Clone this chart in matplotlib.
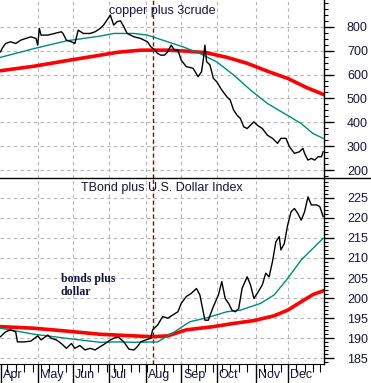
import numpy as np
import matplotlib
matplotlib.use('Agg')
import matplotlib.pyplot as plt
from matplotlib.lines import Line2D

# trading-day index counted from 2008-04-01
holidays = ['2008-05-26', '2008-07-04', '2008-09-01', '2008-11-27', '2008-12-25']
month_starts = ['2008-04-01', '2008-05-01', '2008-06-02', '2008-07-01', '2008-08-01',
                '2008-09-02', '2008-10-01', '2008-11-03', '2008-12-01']
month_labels = ['Apr', 'May', 'Jun', 'Jul', 'Aug', 'Sep', 'Oct', 'Nov', 'Dec']
marker_day = 90

# copper plus 3crude
cu_day = [0, 1, 3, 6, 9, 12, 15, 18, 21, 22, 23, 24, 28, 32, 36, 37, 39, 42, 44, 46,
          49, 53, 56, 59, 61, 63, 65, 67, 69, 71, 73, 75, 79, 83, 87, 89, 91, 93, 95, 97,
          99, 101, 103, 105, 107, 110, 112, 114, 117, 119, 120, 121, 122, 124, 126, 128,
          131, 134, 136, 138, 140, 142, 144, 146, 148, 150, 152, 155, 158, 161, 164, 166,
          169, 171, 174, 177, 179, 180, 182, 184, 186, 188, 190, 191]
cu_val = [695, 710, 730, 737, 730, 744, 751, 758, 751, 723, 793, 765, 765, 772, 779, 772,
          744, 737, 730, 786, 772, 772, 779, 793, 807, 828, 849, 807, 821, 825, 800, 772,
          758, 751, 737, 716, 705, 688, 681, 681, 695, 723, 702, 702, 660, 633, 630, 626,
          591, 612, 660, 723, 654, 640, 584, 570, 535, 507, 493, 451, 430, 416, 381, 374,
          388, 402, 388, 374, 346, 333, 312, 333, 333, 298, 270, 277, 291, 270, 242, 249,
          242, 256, 256, 277]
cu_ma1_day = [0, 20, 39, 59, 67, 79, 87, 99, 108, 118, 128, 138, 148, 158, 168, 178, 185, 191]
cu_ma1 = [672, 709, 741, 761, 772, 772, 765, 737, 716, 688, 653, 598, 535, 479, 437, 395, 353, 333]
cu_ma2_day = [0, 20, 39, 59, 69, 83, 99, 110, 122, 134, 146, 158, 170, 181, 191]
cu_ma2 = [616, 635, 658, 681, 693, 702, 702, 698, 691, 672, 647, 614, 584, 546, 517]

# TBond plus U.S. Dollar Index
bd_day = [0, 3, 6, 9, 10, 14, 18, 22, 24, 28, 30, 33, 36, 39, 42, 44, 47, 50, 53, 56,
          59, 62, 65, 68, 70, 73, 76, 79, 81, 83, 86, 89, 90, 93, 96, 99, 102, 105, 107,
          110, 113, 116, 118, 121, 123, 126, 129, 131, 133, 135, 137, 139, 141, 143, 146,
          148, 150, 152, 155, 157, 159, 161, 163, 165, 166, 168, 170, 172, 174, 176, 178,
          180, 182, 184, 187, 189, 191]
bd_val = [190.4, 191.6, 192.1, 191.6, 189.1, 189.1, 189.3, 190.6, 189.6, 190.8, 190.0,
          189.6, 188.7, 187.5, 188.7, 187.5, 188.2, 187.1, 187.5, 187.1, 187.9, 188.7,
          189.6, 190.2, 190.2, 189.1, 187.3, 187.1, 187.9, 189.1, 189.6, 190.0, 192.1,
          193.3, 195.4, 195.0, 195.8, 196.6, 198.7, 200.4, 201.2, 202.4, 200.8, 194.5,
          194.5, 197.9, 200.8, 204.1, 199.9, 198.7, 197.0, 196.6, 197.4, 202.4, 205.3,
          203.3, 199.9, 201.2, 203.3, 206.2, 205.3, 209.1, 214.0, 215.3, 212.0, 213.6,
          218.2, 221.5, 222.3, 221.1, 219.4, 221.5, 225.2, 223.2, 223.2, 222.8, 220.3]
bd_ma1_day = [0, 20, 39, 59, 69, 79, 93, 103, 112, 122, 134, 142, 154, 162, 170, 178, 185, 191]
bd_ma1 = [192.5, 191.0, 190.0, 189.0, 189.1, 189.0, 189.1, 191.6, 194.1, 195.1, 196.6,
          197.0, 198.7, 200.8, 204.9, 209.5, 212.4, 214.9]
bd_ma2_day = [0, 20, 39, 59, 79, 90, 99, 110, 126, 138, 150, 162, 170, 178, 185, 191]
bd_ma2 = [192.9, 192.5, 191.8, 191.0, 190.6, 190.4, 190.6, 192.1, 192.9, 193.7, 194.4,
          195.6, 197.0, 199.1, 200.9, 201.8]

month_pos = np.busday_count('2008-04-01', month_starts, holidays=holidays)
mondays = np.arange(np.datetime64('2008-04-07'), np.datetime64('2008-12-30'), 7)
week_pos = np.busday_count('2008-04-01', mondays, holidays=holidays)

navy = '#14143c'
teal = '#00897b'
grid_kw = dict(color='#b4b4b4', linestyle=(0, (3, 3)), linewidth=0.8)

fig = plt.figure(figsize=(3.71, 3.83), dpi=100)
ax1 = fig.add_axes([0, 1 - 178 / 383, 324 / 371, 178 / 383])
ax2 = fig.add_axes([0, 1 - 364 / 383, 324 / 371, 186 / 383])

for ax in (ax1, ax2):
    ax.set_xlim(-0.3, 191.5)
    ax.spines['left'].set_visible(False)
    ax.spines['right'].set_linewidth(1.0)
    ax.yaxis.tick_right()
    ax.tick_params(axis='y', which='major', direction='out', length=7, width=1,
                   pad=9.5, labelsize=9, labelcolor=navy, labelfontfamily='Liberation Sans')
    ax.tick_params(axis='y', which='minor', direction='out', length=3, width=0.8)
    for p in month_pos[1:]:
        ax.axvline(p, zorder=0, **grid_kw)
    ax.axvline(marker_day, color='#8b0000', linewidth=1, linestyle=(0, (3, 2)), zorder=1)

# top panel
ax1.spines['top'].set_visible(False)
ax1.spines['bottom'].set_visible(False)
ax1.set_ylim(167, 912)
ax1.set_yticks([200, 300, 400, 500, 600, 700, 800])
ax1.set_yticks(np.arange(175, 912, 25), minor=True)
ax1.set_xticks([])
for v in [200, 300, 400, 500, 600, 700, 800]:
    ax1.axhline(v, zorder=0, **grid_kw)
ax1.plot(cu_ma2_day, cu_ma2, color='#ff0000', linewidth=2.6, zorder=2)
ax1.plot(cu_ma1_day, cu_ma1, color=teal, linewidth=1.0, zorder=3)
ax1.plot(cu_day, cu_val, color='black', linewidth=1.0, zorder=4)
ax1.text(0.5, 0.938, 'copper plus 3crude', transform=ax1.transAxes, ha='center',
         va='center', fontsize=9, color=navy, family='Liberation Sans')

# bottom panel
ax2.spines['top'].set_visible(False)
ax2.set_ylim(183.6, 229.9)
ax2.set_yticks([185, 190, 195, 200, 205, 210, 215, 220, 225])
ax2.set_yticks(np.arange(184, 230, 1), minor=True)
for v in [185, 190, 195, 200, 205, 210, 215, 220, 225]:
    ax2.axhline(v, zorder=0, **grid_kw)
ax2.plot(bd_ma2_day, bd_ma2, color='#ff0000', linewidth=2.6, zorder=2)
ax2.plot(bd_ma1_day, bd_ma1, color=teal, linewidth=1.0, zorder=3)
ax2.plot(bd_day, bd_val, color='black', linewidth=1.0, zorder=4)
ax2.text(0.5, 0.945, 'TBond plus U.S. Dollar Index', transform=ax2.transAxes, ha='center',
         va='center', fontsize=9, color=navy, family='Liberation Sans')
ax2.text(0.188, 0.422, 'bonds plus\ndollar', transform=ax2.transAxes, ha='left',
         va='center', fontsize=8.5, fontweight='bold', color=navy,
         family='Liberation Serif', linespacing=1.15)

ax2.set_xticks(month_pos)
ax2.set_xticklabels([])
ax2.set_xticks(week_pos, minor=True)
ax2.tick_params(axis='x', which='major', direction='out', length=18, width=1)
ax2.tick_params(axis='x', which='minor', direction='out', length=6, width=0.8)
for p, lab in zip(month_pos, month_labels):
    ax2.text(p + 1.2, -0.059, lab, transform=ax2.get_xaxis_transform(), ha='left',
             va='center', fontsize=9, color=navy, family='Liberation Sans')

# divider between the panels runs across the whole figure
fig.add_artist(Line2D([0, 1], [1 - 178 / 383, 1 - 178 / 383], color='black',
                      linewidth=1.0, transform=fig.transFigure))

fig.savefig('out.png', dpi=100)
